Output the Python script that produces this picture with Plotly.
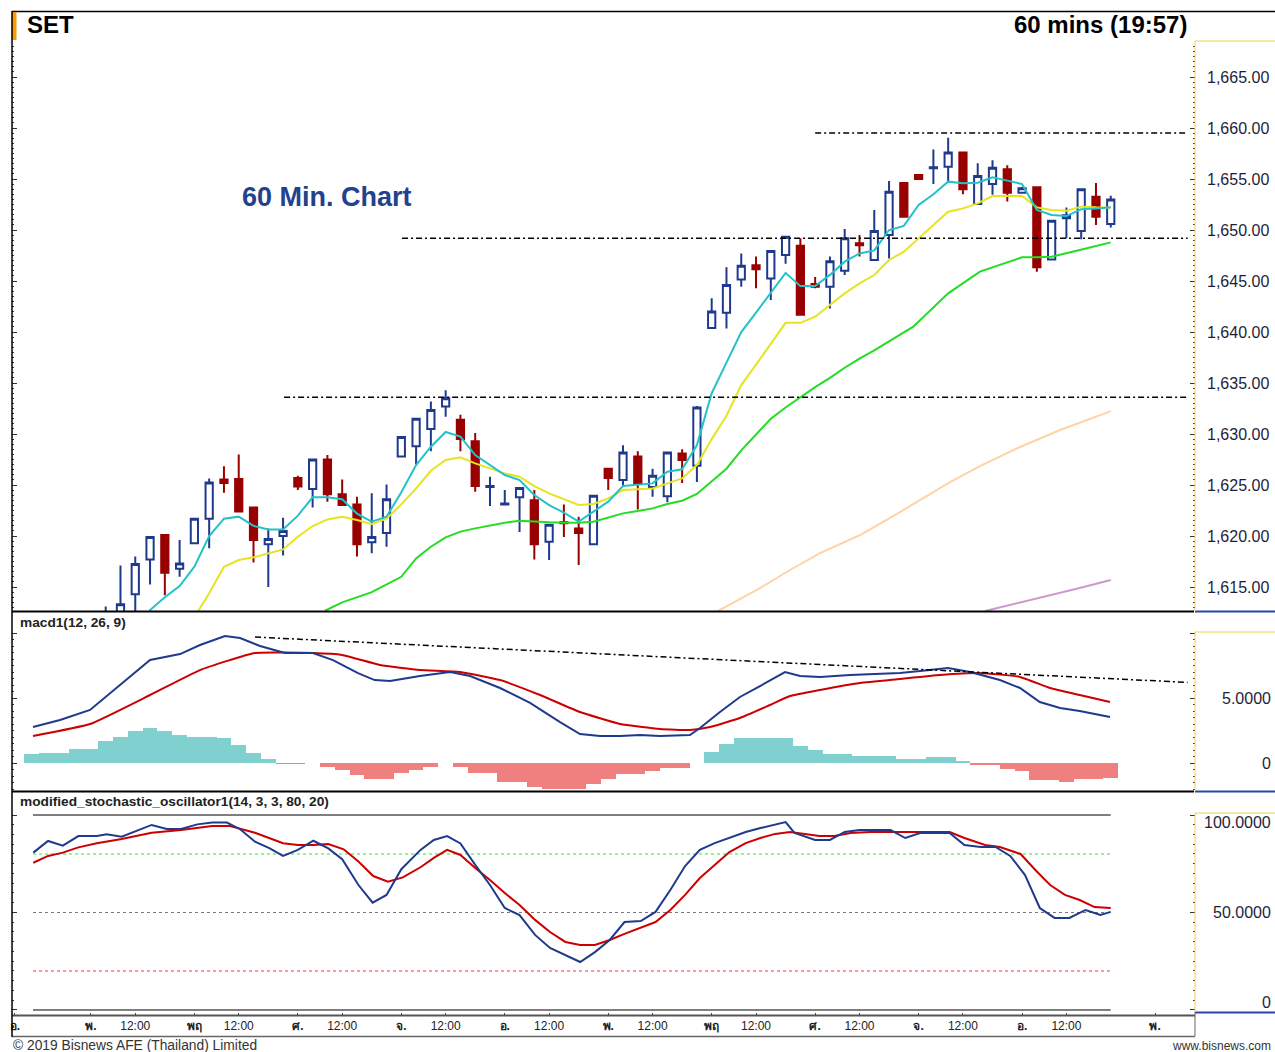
import plotly.graph_objects as go

# ---------------- data ----------------
BAR_IDX = list(range(5, 74))
OPEN = [1608.5, 1611.5, 1614.3, 1617.7, 1620.1, 1616.8, 1619.3, 1621.7, 1625.55, 1625.6,
        1622.8, 1619.2, 1620.0, 1625.7, 1624.6, 1627.5, 1624.1, 1623.1, 1619.4, 1620.3,
        1627.8, 1628.8, 1630.5, 1632.7, 1631.4, 1629.3, 1624.8, 1623.1, 1623.8, 1623.5,
        1619.45, 1621.35, 1620.75, 1619.2, 1626.6, 1625.5, 1627.8, 1624.8, 1623.9, 1628.1,
        1626.9, 1640.4, 1641.9, 1645.15, 1646.55, 1645.25, 1647.55, 1648.45, 1644.7, 1644.45,
        1646.0, 1648.7, 1647.05, 1649.5, 1654.6, 1655.4, 1656.05, 1656.2, 1657.6, 1652.55,
        1654.5, 1655.95, 1653.65, 1654.2, 1647.1, 1651.15, 1649.9, 1653.25, 1650.6]
HIGH = [1613.1, 1617.1, 1618.0, 1620.0, 1620.15, 1619.6, 1621.75, 1625.65, 1626.85, 1628.0,
        1622.85, 1620.75, 1621.8, 1625.9, 1627.55, 1627.95, 1625.55, 1623.85, 1624.2, 1625.05,
        1629.8, 1631.6, 1633.2, 1634.3, 1631.9, 1630.1, 1625.8, 1624.5, 1624.8, 1624.5,
        1621.15, 1623.1, 1621.9, 1624.0, 1626.7, 1628.9, 1628.3, 1626.6, 1628.25, 1628.5,
        1632.75, 1643.3, 1646.35, 1647.7, 1647.4, 1648.0, 1649.4, 1649.2, 1645.4, 1647.4,
        1650.1, 1649.5, 1651.95, 1654.8, 1654.65, 1655.45, 1657.9, 1659.05, 1657.65, 1656.55,
        1656.85, 1656.35, 1654.25, 1654.25, 1651.0, 1652.2, 1654.05, 1654.6, 1653.35]
LOW = [1606.5, 1610.5, 1612.0, 1615.25, 1614.2, 1616.0, 1619.25, 1618.8, 1624.25, 1622.35,
       1617.4, 1615.0, 1618.1, 1624.5, 1622.8, 1623.35, 1623.0, 1618.0, 1618.3, 1618.95,
       1627.75, 1627.0, 1628.3, 1631.7, 1628.3, 1624.35, 1622.95, 1623.05, 1620.4, 1617.7,
       1617.65, 1619.9, 1617.15, 1619.1, 1624.5, 1624.85, 1622.6, 1623.85, 1623.3, 1625.2,
       1625.3, 1640.3, 1640.35, 1644.45, 1644.3, 1643.15, 1646.7, 1641.65, 1644.3, 1642.3,
       1645.6, 1647.4, 1647.0, 1647.2, 1651.25, 1654.95, 1654.5, 1654.8, 1653.5, 1652.5,
       1653.45, 1652.8, 1653.6, 1645.9, 1647.0, 1649.2, 1649.1, 1650.5, 1650.25]
CLOSE = [1611.0, 1613.3, 1617.25, 1619.9, 1616.4, 1617.3, 1621.7, 1625.25, 1625.2, 1622.4,
         1619.6, 1619.7, 1620.5, 1624.85, 1627.5, 1624.1, 1623.05, 1619.2, 1619.9, 1623.6,
         1629.7, 1631.5, 1632.35, 1633.5, 1629.5, 1624.9, 1624.9, 1623.2, 1624.7, 1619.2,
         1621.1, 1621.25, 1620.3, 1623.95, 1625.7, 1628.2, 1625.2, 1625.9, 1628.2, 1627.45,
         1632.6, 1642.0, 1644.6, 1646.5, 1646.15, 1647.95, 1649.35, 1641.7, 1644.45, 1646.95,
         1649.2, 1648.5, 1649.9, 1653.75, 1651.3, 1655.0, 1656.15, 1657.6, 1654.0, 1655.3,
         1656.1, 1653.65, 1654.1, 1646.35, 1650.9, 1651.45, 1654.0, 1651.3, 1653.0]

# moving averages (bar index, price)
CYAN_X = [7.95, 9, 10, 11, 12, 13, 14, 15, 16, 17, 18, 19, 20, 21, 22, 23, 24, 25, 26, 27, 28,
          29, 30, 31, 32, 33, 34, 35, 36, 37, 38, 39, 40, 41, 42, 43, 44, 45, 46, 47, 48, 49,
          50, 51, 52, 53, 54, 55, 56, 57, 58, 59, 60, 61, 62, 63, 64, 65, 66, 67, 68, 69, 70,
          71, 72, 73]
CYAN_Y = [1612.68, 1614.0, 1615.1, 1617.0, 1620.0, 1621.7, 1621.9, 1621.0, 1620.65, 1620.65,
          1622.0, 1623.8, 1623.8, 1623.6, 1622.2, 1621.4, 1621.9, 1624.3, 1626.96, 1628.76,
          1630.2, 1629.74, 1627.94, 1626.96, 1625.98, 1625.49, 1624.02, 1623.04, 1622.29,
          1621.41, 1622.39, 1623.37, 1624.9, 1625.0, 1625.16, 1626.31, 1626.54, 1628.92,
          1634.0, 1637.0, 1640.0, 1641.9, 1643.8, 1645.8, 1644.5, 1644.5, 1645.6, 1646.9,
          1647.7, 1648.0, 1650.0, 1650.4, 1652.45, 1653.5, 1654.74, 1654.58, 1654.64,
          1655.16, 1654.84, 1654.51, 1651.96, 1651.47, 1651.37, 1652.03, 1652.12, 1652.22]
YELLOW_X = [11.27, 12, 13, 14, 15, 16, 17, 18, 19, 20, 21, 22, 23, 24, 25, 26, 27, 28, 29, 30,
            31, 32, 33, 34, 35, 36, 37, 38, 39, 40, 41, 42, 43, 44, 45, 46, 47, 48, 49, 50, 51,
            52, 53, 54, 55, 56, 57, 58, 59, 60, 61, 62, 63, 64, 65, 66, 67, 68, 69, 70, 71,
            72, 73]
YELLOW_Y = [1612.68, 1614.38, 1616.99, 1617.65, 1617.91, 1618.3, 1618.69, 1619.93, 1620.98,
            1621.63, 1621.89, 1621.57, 1621.17, 1621.7, 1623.1, 1624.67, 1626.4, 1627.45,
            1627.71, 1627.12, 1626.63, 1626.14, 1625.82, 1624.9, 1624.18, 1623.63, 1623.04,
            1623.14, 1623.69, 1624.51, 1624.57, 1624.67, 1625.16, 1625.65, 1626.96, 1629.5,
            1631.8, 1634.8, 1636.8, 1638.8, 1640.9, 1640.9, 1641.5, 1642.65, 1643.79,
            1644.77, 1645.59, 1647.06, 1647.87, 1649.18, 1650.49, 1651.8, 1652.12, 1652.61,
            1653.33, 1653.33, 1653.33, 1652.22, 1651.96, 1651.9, 1652.29, 1652.22, 1652.19]
GREEN_X = [19.84, 21, 23, 25, 26, 27, 28, 29, 30, 31, 32, 33, 34, 35, 36, 37, 38, 39, 40, 41,
           42, 43, 44, 45, 46, 47, 48, 50, 51, 52, 53, 54, 55, 56, 57, 59.64, 62, 64.15, 67,
           68, 69, 70.9, 73]
GREEN_Y = [1612.68, 1613.5, 1614.5, 1616.0, 1617.81, 1618.95, 1619.87, 1620.43, 1620.75,
           1621.05, 1621.31, 1621.5, 1621.41, 1621.34, 1621.31, 1621.31, 1621.41, 1621.8,
           1622.22, 1622.45, 1622.71, 1623.14, 1623.46, 1624.12, 1625.4, 1626.6, 1628.4,
           1631.5, 1632.6, 1633.6, 1634.6, 1635.5, 1636.5, 1637.4, 1638.2, 1640.52, 1643.79,
           1645.92, 1647.32, 1647.32, 1647.38, 1648.04, 1648.79]
PEACH_X = [46.43, 49.27, 51.3, 53.33, 56.04, 58.74, 62.12, 64.15, 66.86, 69.57, 73.02]
PEACH_Y = [1612.65, 1614.9, 1616.67, 1618.33, 1620.1, 1622.35, 1625.29, 1626.86, 1628.73,
           1630.39, 1632.25]
LILAC_X = [64.5, 68.2, 70.9, 73.0]
LILAC_Y = [1612.65, 1613.92, 1614.9, 1615.69]

# horizontal dash-dot levels on price: (start bar, level)
LEVEL_START = [53.0, 25.05, 17.07]
LEVEL_VALUE = [1659.5, 1649.2, 1633.6]
LEVEL_END = 78.2

# MACD
MACD_X = [0.08, 1.91, 3.94, 5.97, 8.0, 10.03, 11.38, 13.07, 14.09, 15.44, 17.13, 19.02, 20.38,
          22.07, 23.2, 24.24, 26.26, 28.3, 29.65, 31.68, 33.71, 35.74, 37.09, 38.45, 39.8,
          41.15, 42.5, 44.53, 45.21, 46.56, 47.91, 49.27, 50.96, 51.98, 53.33, 55.36, 57.39,
          58.74, 60.1, 61.99, 63.48, 65.5, 66.86, 68.2, 69.57, 70.9, 72.95]
MACD_Y = [2.77, 3.31, 4.08, 6.0, 7.92, 8.38, 9.08, 9.77, 9.62, 9.0, 8.46, 8.46, 7.92, 6.92,
          6.38, 6.31, 6.69, 7.0, 6.69, 5.77, 4.62, 3.15, 2.23, 2.08, 2.08, 2.15, 2.08, 2.15,
          2.69, 3.92, 5.08, 5.92, 7.0, 6.69, 6.62, 6.77, 6.85, 6.92, 7.08, 7.31, 7.0, 6.38,
          5.77, 4.69, 4.23, 4.0, 3.54]
SIGNAL_X = [0.08, 3.94, 8.0, 11.38, 15.1, 19.02, 21.0, 23.56, 26.26, 28.97, 31.68, 34.39,
            37.09, 39.8, 42.5, 44.53, 45.88, 47.91, 49.94, 51.3, 53.33, 56.04, 58.74, 61.45,
            64.15, 66.86, 68.89, 70.9, 72.95]
SIGNAL_Y = [2.08, 3.0, 5.23, 7.15, 8.46, 8.46, 8.31, 7.54, 7.15, 7.0, 6.38, 5.23, 3.92, 3.0,
            2.62, 2.54, 2.77, 3.46, 4.46, 5.15, 5.62, 6.15, 6.46, 6.77, 6.92, 6.62, 5.77,
            5.23, 4.69]
HIST = [0.69, 0.75, 0.78, 1.05, 1.05, 1.67, 2.03, 2.46, 2.67, 2.44, 2.15, 2.03, 2.03, 1.9,
        1.38, 0.79, 0.28, -0.03, -0.03, 0.0, -0.28, -0.54, -0.92, -1.23, -1.23, -0.79, -0.5,
        -0.31, 0.0, -0.31, -0.74, -0.74, -1.46, -1.46, -1.85, -1.97, -1.97, -1.97, -1.59,
        -1.2, -0.87, -0.87, -0.64, -0.36, -0.36, 0.0, 0.85, 1.49, 1.92, 1.92, 1.92, 1.92,
        1.31, 0.97, 0.72, 0.67, 0.51, 0.51, 0.56, 0.33, 0.33, 0.44, 0.44, 0.08, -0.1, -0.1,
        -0.44, -0.62, -1.33, -1.33, -1.46, -1.2, -1.2, -1.13]
MACD_TREND_X = [15.1, 78.2]
MACD_TREND_Y = [9.69, 6.2]

# Stochastic
STK_X = [0.1, 1.1, 2.1, 3.15, 4.4, 5.07, 6.08, 7.1, 8.11, 9.13, 10.1, 11.2, 12.2, 13.2, 14.1,
         15.1, 16.1, 17.0, 18.0, 19.05, 20.06, 21.0, 22.1, 23.06, 24.0, 25.0, 26.3, 27.2,
         28.1, 29.0, 30.0, 31.0, 32.0, 33.0, 34.05, 35.06, 36.1, 37.1, 38.1, 39.1, 40.1,
         41.2, 42.2, 43.2, 44.2, 45.2, 46.2, 47.2, 48.3, 49.3, 50.3, 51.0, 51.6, 53.0, 54.0,
         55.0, 56.0, 57.0, 58.1, 59.1, 60.1, 61.1, 62.1, 63.1, 64.2, 65.2, 66.2, 67.2, 68.2,
         69.2, 70.2, 71.3, 72.3, 73.0]
STK_Y = [80.7, 86.7, 84.3, 89.2, 89.2, 90.1, 88.9, 91.9, 94.9, 92.8, 92.8, 95.2, 96.2, 96.1,
         92.7, 86.3, 82.9, 79.0, 82.1, 86.8, 82.9, 77.3, 64.1, 55.0, 59.0, 72.2, 82.1, 87.2,
         89.2, 85.4, 74.4, 64.1, 52.3, 48.7, 38.5, 31.8, 28.2, 24.6, 29.7, 35.9, 45.1, 45.6,
         50.3, 61.5, 73.8, 82.1, 85.6, 88.2, 91.3, 93.3, 94.9, 96.4, 90.8, 87.2, 87.2, 91.3,
         92.3, 92.3, 92.3, 88.2, 90.8, 90.8, 90.8, 84.6, 83.6, 83.6, 79.0, 69.2, 52.3, 47.2,
         47.2, 51.3, 48.7, 50.3]
STD_X = [0.1, 1.1, 2.1, 3.15, 4.4, 6.08, 8.11, 10.1, 12.2, 13.4, 15.1, 17.0, 18.0, 19.05,
         20.06, 21.1, 22.1, 23.1, 24.1, 25.1, 26.3, 27.2, 28.1, 29.0, 30.0, 31.0, 32.0, 33.0,
         34.05, 35.06, 36.1, 37.1, 38.1, 39.1, 40.1, 41.2, 42.2, 43.2, 44.2, 45.2, 46.2,
         47.2, 48.3, 49.3, 50.3, 51.3, 52.3, 53.3, 54.3, 55.4, 56.7, 58.1, 59.4, 60.8, 62.1,
         63.1, 64.5, 65.5, 66.9, 67.9, 68.9, 69.9, 70.9, 71.9, 73.0]
STD_Y = [75.5, 79.0, 80.7, 83.4, 85.5, 87.7, 90.9, 92.3, 94.4, 94.4, 90.9, 85.5, 84.6, 84.6,
         85.1, 82.4, 76.1, 68.7, 65.8, 68.0, 73.2, 78.0, 82.1, 79.5, 72.8, 66.7, 60.0, 53.8,
         46.2, 40.0, 34.9, 33.3, 33.3, 35.9, 39.0, 42.1, 45.1, 51.3, 59.0, 67.7, 74.4, 81.0,
         85.6, 88.2, 90.3, 91.3, 90.3, 89.2, 89.2, 90.8, 91.3, 91.3, 91.3, 91.3, 91.3, 88.2,
         84.6, 83.6, 80.0, 71.8, 64.1, 59.0, 56.4, 52.8, 52.3]
STOCH_LEVELS = [100, 80, 50, 20, 0]
STOCH_SPAN = [0.08, 73.0]

# x-axis tick labels
DAY_POS = [-1.14, 4, 11, 18, 25, 32, 39, 46, 53, 60, 67, 76]
DAY_TEXT = ["อ.", "พ.", "พฤ", "ศ.", "จ.", "อ.", "พ.", "พฤ", "ศ.", "จ.", "อ.", "พ."]
NOON_POS = [7, 14, 21, 28, 35, 42, 49, 56, 63, 70]
NOON_TEXT = ["12:00"] * len(NOON_POS)

# ---------------- layout geometry ----------------
W, H = 1275, 1052
L, R, T, B = 12, 80, 41, 40
PW = W - L - R
PH = H - T - B
FONT = "Arial, Liberation Sans, sans-serif"


def px(x):  # page pixel -> paper fraction
    return (x - L) / PW


def py(y):
    return (H - B - y) / PH


NAVY = "#1F3A8C"
DRED = "#990000"
SER_RED = "#CC0000"

fig = go.Figure()

fig.add_trace(go.Candlestick(
    x=BAR_IDX, open=OPEN, high=HIGH, low=LOW, close=CLOSE,
    increasing=dict(line=dict(color=NAVY, width=2), fillcolor="white"),
    decreasing=dict(line=dict(color=DRED, width=2), fillcolor=DRED),
    whiskerwidth=0, xaxis="x", yaxis="y", showlegend=False, hoverinfo="skip"))

for xs, ys, col in [(LILAC_X, LILAC_Y, "#CC99CC"), (PEACH_X, PEACH_Y, "#FFD3A5"),
                    (GREEN_X, GREEN_Y, "#22DD22"), (YELLOW_X, YELLOW_Y, "#E6E41E"),
                    (CYAN_X, CYAN_Y, "#22C2C8")]:
    fig.add_trace(go.Scatter(x=xs, y=ys, mode="lines", line=dict(color=col, width=2),
                             xaxis="x", yaxis="y", showlegend=False, hoverinfo="skip"))

for s, v in zip(LEVEL_START, LEVEL_VALUE):
    fig.add_trace(go.Scatter(x=[s, LEVEL_END], y=[v, v], mode="lines",
                             line=dict(color="black", width=1.5, dash="6px,3px,2px,3px"),
                             xaxis="x", yaxis="y", showlegend=False, hoverinfo="skip"))

# MACD panel
fig.add_trace(go.Bar(x=list(range(len(HIST))), y=HIST, width=1.0,
                     marker=dict(color=["#80D0D0" if v >= 0 else "#F08080" for v in HIST],
                                 line=dict(width=0)),
                     xaxis="x", yaxis="y2", showlegend=False, hoverinfo="skip"))
fig.add_trace(go.Scatter(x=SIGNAL_X, y=SIGNAL_Y, mode="lines",
                         line=dict(color=SER_RED, width=2, shape="spline", smoothing=0.4),
                         xaxis="x", yaxis="y2", showlegend=False, hoverinfo="skip"))
fig.add_trace(go.Scatter(x=MACD_X, y=MACD_Y, mode="lines", line=dict(color=NAVY, width=2),
                         xaxis="x", yaxis="y2", showlegend=False, hoverinfo="skip"))
fig.add_trace(go.Scatter(x=MACD_TREND_X, y=MACD_TREND_Y, mode="lines",
                         line=dict(color="black", width=1.5, dash="6px,3px,2px,3px"),
                         xaxis="x", yaxis="y2", showlegend=False, hoverinfo="skip"))

# Stochastic panel
lvl_style = {100: ("black", 1, "solid"), 80: ("#22EE22", 1, "dot"),
             50: ("#777777", 1, "dot"), 20: ("#FF3333", 1, "dot"), 0: ("black", 1, "solid")}
for lv in STOCH_LEVELS:
    c, w, d = lvl_style[lv]
    fig.add_trace(go.Scatter(x=STOCH_SPAN, y=[lv, lv], mode="lines",
                             line=dict(color=c, width=w, dash=d),
                             xaxis="x", yaxis="y3", showlegend=False, hoverinfo="skip"))
fig.add_trace(go.Scatter(x=STD_X, y=STD_Y, mode="lines", line=dict(color=SER_RED, width=2),
                         xaxis="x", yaxis="y3", showlegend=False, hoverinfo="skip"))
fig.add_trace(go.Scatter(x=STK_X, y=STK_Y, mode="lines", line=dict(color=NAVY, width=2),
                         xaxis="x", yaxis="y3", showlegend=False, hoverinfo="skip"))

tickvals = DAY_POS + NOON_POS
ticktext = ["<b>%s</b>" % t for t in DAY_TEXT] + NOON_TEXT

common_y = dict(showgrid=False, zeroline=False, showline=False, side="right",
                ticks="inside", tickcolor="#333", mirror="ticks", anchor="x",
                automargin=False)

fig.update_layout(
    width=W, height=H, autosize=False, margin=dict(l=L, r=R, t=T, b=B),
    paper_bgcolor="white", plot_bgcolor="white", bargap=0, showlegend=False,
    font=dict(family=FONT, color="#222"),
    xaxis=dict(domain=[0, 1], anchor="y3", range=[-1.34, 78.70], showgrid=False,
               zeroline=False, showline=False, rangeslider=dict(visible=False),
               automargin=False,
               tickvals=tickvals, ticktext=ticktext, ticks="outside", ticklen=3,
               tickcolor="#444", tickfont=dict(size=12, color="#222", family=FONT)),
    yaxis=dict(domain=[py(611), 1], range=[1612.65, 1668.53],
               tickvals=list(range(1615, 1670, 5)), tickformat=",.2f", ticklen=5,
               minor=dict(dtick=0.5, ticks="inside", ticklen=2, tickcolor="#333"),
               tickfont=dict(size=16, color="#1E1E3C", family=FONT),
               ticklabelstandoff=11, **common_y),
    yaxis2=dict(domain=[py(791), py(613)], range=[-2.154, 11.54],
                tickvals=[0, 5, 10], ticklen=5, showticklabels=False,
                minor=dict(tickvals=[k * 0.5 for k in range(-4, 21)], ticks="inside",
                           ticklen=2, tickcolor="#333"), **common_y),
    yaxis3=dict(domain=[0, py(793)], range=[-1.03, 111.28],
                tickvals=[0, 50, 100], ticklen=5, showticklabels=False,
                minor=dict(tickvals=list(range(0, 101, 5)), ticks="inside",
                           ticklen=2, tickcolor="#333"), **common_y),
)

shapes = []


def hline(y, x0, x1, color, width):
    shapes.append(dict(type="line", xref="paper", yref="paper", x0=px(x0), x1=px(x1),
                       y0=py(y), y1=py(y), line=dict(color=color, width=width)))


def vline(x, y0, y1, color, width):
    shapes.append(dict(type="line", xref="paper", yref="paper", x0=px(x), x1=px(x),
                       y0=py(y0), y1=py(y1), line=dict(color=color, width=width)))


YEL = "#F2CC55"
BLUE = "#2848B0"
# header
hline(11.5, 12, 1275, "black", 1.5)
shapes.append(dict(type="rect", xref="paper", yref="paper", x0=px(12), x1=px(16.5),
                   y0=py(12), y1=py(40), fillcolor="#FF9900", line=dict(width=0)))
# panel separators
for y in (611.5, 791.5):
    hline(y, 12, 1194, "black", 2)
for y in (611.5, 791.5, 1012.5):
    hline(y, 1195, 1275, BLUE, 2)
# yellow label boxes
for top, bot in ((41, 611), (632, 791), (813, 1012)):
    vline(1195, top, bot, YEL, 1)
    hline(top, 1195, 1275, YEL, 1)
# x-axis strip
hline(1015.5, 12, 1195, "#555", 2)
hline(1036.5, 12, 1195, "#666", 1.5)
vline(1195, 1012, 1036, "#666", 1)
# left frame
vline(12, 11, 1037, "black", 1.5)

annotations = [
    dict(text="<b>SET</b>", x=px(25), y=py(25), xanchor="left", yanchor="middle",
         font=dict(size=24, color="black", family=FONT)),
    dict(text="<b>60 mins (19:57)</b>", x=px(1189), y=py(25), xanchor="right",
         yanchor="middle", font=dict(size=24, color="black", family=FONT)),
    dict(text="<b>60 Min. Chart</b>", x=px(240), y=py(197), xanchor="left",
         yanchor="middle", font=dict(size=27, color="#23418C", family=FONT)),
    dict(text="<b>macd1(12, 26, 9)</b>", x=px(18), y=py(622), xanchor="left",
         yanchor="middle", font=dict(size=13.7, color="#222", family=FONT)),
    dict(text="<b>modified_stochastic_oscillator1(14, 3, 3, 80, 20)</b>", x=px(18),
         y=py(802), xanchor="left", yanchor="middle",
         font=dict(size=13.7, color="#222", family=FONT)),
    dict(text="© 2019 Bisnews AFE (Thailand) Limited", x=px(11), y=py(1045),
         xanchor="left", yanchor="middle", font=dict(size=13.8, color="#333", family=FONT)),
    dict(text="www.bisnews.com", x=px(1273), y=py(1046), xanchor="right",
         yanchor="middle", font=dict(size=12, color="#333", family=FONT)),
]
for txt, y in (("5.0000", 698), ("0", 763), ("100.0000", 823), ("50.0000", 912), ("0", 1002)):
    annotations.append(dict(text=txt, x=px(1273), y=py(y), xanchor="right", yanchor="middle",
                            font=dict(size=16, color="#1E1E3C", family=FONT)))
for a in annotations:
    a.update(xref="paper", yref="paper", showarrow=False)

fig.update_layout(shapes=shapes, annotations=annotations)
fig.write_html("out.html",
               config={"responsive": False, "displayModeBar": False},
               post_script="document.body.style.margin='0';"
                           "document.body.style.overflow='hidden';")
